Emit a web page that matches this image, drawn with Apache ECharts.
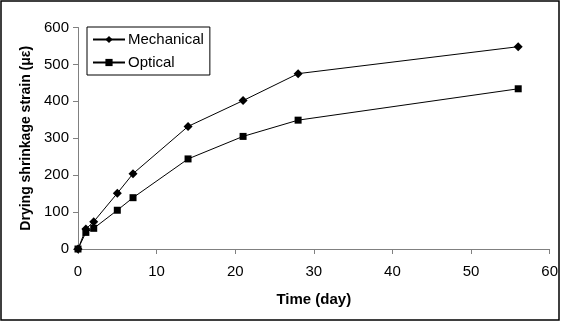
<!DOCTYPE html>
<html>
<head>
<meta charset="utf-8">
<script src="https://cdn.jsdelivr.net/npm/echarts@6/dist/echarts.min.js"></script>
<style>
html,body{margin:0;padding:0;background:#fff;}
#chart{width:561px;height:324px;}
</style>
</head>
<body>
<div id="chart"></div>
<script>
// days of measurement
var days = [0, 1, 2, 5, 7, 14, 21, 28, 56];
// drying shrinkage strain, micro-strain
var mechanical = [0, 54, 74, 151, 204, 332, 402, 475, 548];
var optical = [0, 45, 56, 105, 139, 244, 305, 349, 434];

function pairs(xs, ys){
	var out = [];
	for (var i = 0; i < xs.length; i++) out.push([xs[i], ys[i]]);
	return out;
}

var font = 'Liberation Sans, Arial, sans-serif';
var myChart = echarts.init(document.getElementById('chart'));

myChart.setOption({
	animation: false,
	backgroundColor: '#fff',
	textStyle: {fontFamily: font},
	grid: {left: 78, right: 10, top: 27.5, bottom: 75, containLabel: false},
	legend: {
		orient: 'vertical',
		left: 87, top: 27,
		borderColor: '#000', borderWidth: 1,
		padding: [5, 6, 5, 5],
		itemGap: 8, itemWidth: 32, itemHeight: 9,
		textStyle: {fontFamily: font, fontSize: 15, color: '#000', padding: [0, 0, 0, -2]},
		data: ['Mechanical', 'Optical']
	},
	xAxis: {
		type: 'value', min: 0, max: 60, interval: 10,
		name: 'Time (day)', nameLocation: 'middle', nameGap: 43,
		nameTextStyle: {fontFamily: font, fontSize: 15, fontWeight: 'bold', color: '#000'},
		axisLine: {lineStyle: {color: '#808080', width: 1}},
		axisTick: {show: true, length: 5, lineStyle: {color: '#808080'}},
		axisLabel: {fontFamily: font, fontSize: 15, color: '#000', margin: 15},
		splitLine: {show: false}
	},
	yAxis: {
		type: 'value', min: 0, max: 600, interval: 100,
		name: 'Drying shrinkage strain (\u03bc\u03b5)', nameLocation: 'middle', nameGap: 44,
		nameRotate: 90,
		nameTextStyle: {fontFamily: font, fontSize: 14, fontWeight: 'bold', color: '#000'},
		axisLine: {show: true, lineStyle: {color: '#808080', width: 1}},
		axisTick: {show: true, length: 5, lineStyle: {color: '#808080'}},
		axisLabel: {fontFamily: font, fontSize: 15, color: '#000', margin: 9},
		splitLine: {show: false}
	},
	series: [
		{
			name: 'Mechanical', type: 'line',
			data: pairs(days, mechanical),
			symbol: 'diamond', symbolSize: 9,
			itemStyle: {color: '#000'},
			lineStyle: {color: '#000', width: 1}
		},
		{
			name: 'Optical', type: 'line',
			data: pairs(days, optical),
			symbol: 'rect', symbolSize: 7,
			itemStyle: {color: '#000'},
			lineStyle: {color: '#000', width: 1}
		}
	],
	graphic: [{
		type: 'rect',
		shape: {x: 1, y: 1, width: 558, height: 319},
		style: {fill: null, stroke: '#000', lineWidth: 1.5},
		silent: true
	}]
});
</script>
</body>
</html>
